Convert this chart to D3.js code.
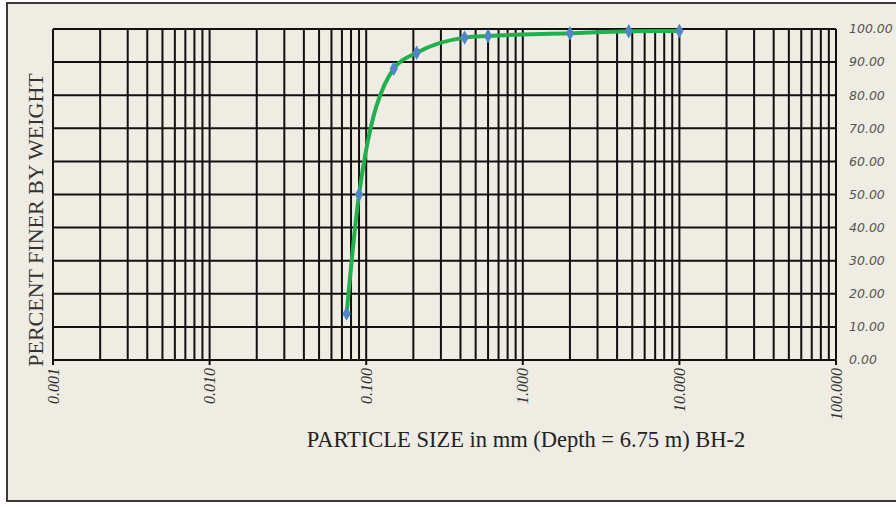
<!DOCTYPE html>
<html>
<head>
<meta charset="utf-8">
<script src="https://cdn.jsdelivr.net/npm/d3@7/dist/d3.min.js"></script>
<style>
  body { margin: 0; background: #fff; }
</style>
</head>
<body>
<script>
// sieve sizes (mm) and percent passing
const sizes = [0.075, 0.09, 0.15, 0.21, 0.425, 0.6, 2.0, 4.75, 10];
const percent = [14, 50, 88, 92.8, 97.4, 97.9, 98.7, 99.3, 99.4];
const xTicks = [0.001, 0.01, 0.1, 1, 10, 100];
const xTickLabels = ["0.001", "0.010", "0.100", "1.000", "10.000", "100.000"];
const yTicks = [0, 10, 20, 30, 40, 50, 60, 70, 80, 90, 100];

const W = 896, H = 506;
const svg = d3.select("body").append("svg")
  .attr("width", W)
  .attr("height", H);

// chart background + outer frame
svg.append("rect")
  .attr("x", 7).attr("y", 3)
  .attr("width", 895).attr("height", 498)
  .attr("fill", "#eeece3")
  .attr("stroke", "#3a3a3a")
  .attr("stroke-width", 2);

const x = d3.scaleLog().domain([0.001, 100]).range([53, 836]);
const y = d3.scaleLinear().domain([0, 100]).range([360, 29]);

// minor + major vertical grid lines
const vLines = [];
for (let e = -3; e < 2; e++) {
  for (let m = 1; m < 10; m++) vLines.push(m * Math.pow(10, e));
}
vLines.push(100);

const grid = svg.append("g").attr("stroke", "#111").attr("stroke-width", 2);
grid.selectAll("line.v").data(vLines)
  .enter().append("line")
    .attr("class", "v")
    .attr("x1", d => x(d)).attr("x2", d => x(d))
    .attr("y1", y(0)).attr("y2", y(100));

grid.selectAll("line.h").data(yTicks)
  .enter().append("line")
    .attr("class", "h")
    .attr("x1", x(0.001)).attr("x2", x(100))
    .attr("y1", d => y(d)).attr("y2", d => y(d));

// little ticks below the axis at decades
grid.selectAll("line.t").data(xTicks)
  .enter().append("line")
    .attr("class", "t")
    .attr("x1", d => x(d)).attr("x2", d => x(d))
    .attr("y1", y(0)).attr("y2", y(0) + 5);

// x tick labels, rotated
svg.selectAll("text.xl").data(xTicks)
  .enter().append("text")
    .attr("class", "xl")
    .attr("transform", d => `translate(${x(d)},${y(0) + 8}) rotate(-90)`)
    .attr("dy", "0.35em")
    .attr("text-anchor", "end")
    .attr("font-family", "Liberation Serif")
    .attr("font-style", "italic")
    .attr("font-size", 16)
    .attr("fill", "#333")
    .text((d, i) => xTickLabels[i]);

// y tick labels on right
svg.selectAll("text.yl").data(yTicks)
  .enter().append("text")
    .attr("class", "yl")
    .attr("x", 849)
    .attr("y", d => y(d))
    .attr("dy", "0.35em")
    .attr("font-family", "DejaVu Sans")
    .attr("font-style", "italic")
    .attr("font-size", 12.5)
    .attr("fill", "#555")
    .text(d => d.toFixed(2));

// titles
svg.append("text")
  .attr("transform", `translate(43,220) rotate(-90)`)
  .attr("text-anchor", "middle")
  .attr("font-family", "Liberation Serif")
  .attr("font-size", 22)
  .attr("fill", "#333")
  .text("PERCENT FINER BY WEIGHT");

svg.append("text")
  .attr("x", 526).attr("y", 447)
  .attr("text-anchor", "middle")
  .attr("font-family", "Liberation Serif")
  .attr("font-size", 22.5)
  .attr("fill", "#222")
  .text("PARTICLE SIZE in mm (Depth = 6.75 m) BH-2");

// gradation curve
const pts = sizes.map((s, i) => [s, percent[i]]);
const line = d3.line()
  .x(d => x(d[0]))
  .y(d => y(d[1]))
  .curve(d3.curveMonotoneX);

svg.append("path")
  .datum(pts)
  .attr("d", line)
  .attr("fill", "none")
  .attr("stroke", "#22b04f")
  .attr("stroke-width", 4);

svg.selectAll("path.pt").data(pts)
  .enter().append("path")
    .attr("class", "pt")
    .attr("transform", d => `translate(${x(d[0])},${y(d[1])})`)
    .attr("d", d3.symbol().type(d3.symbolDiamond).size(60))
    .attr("fill", "#4f86c6");
</script>
</body>
</html>
